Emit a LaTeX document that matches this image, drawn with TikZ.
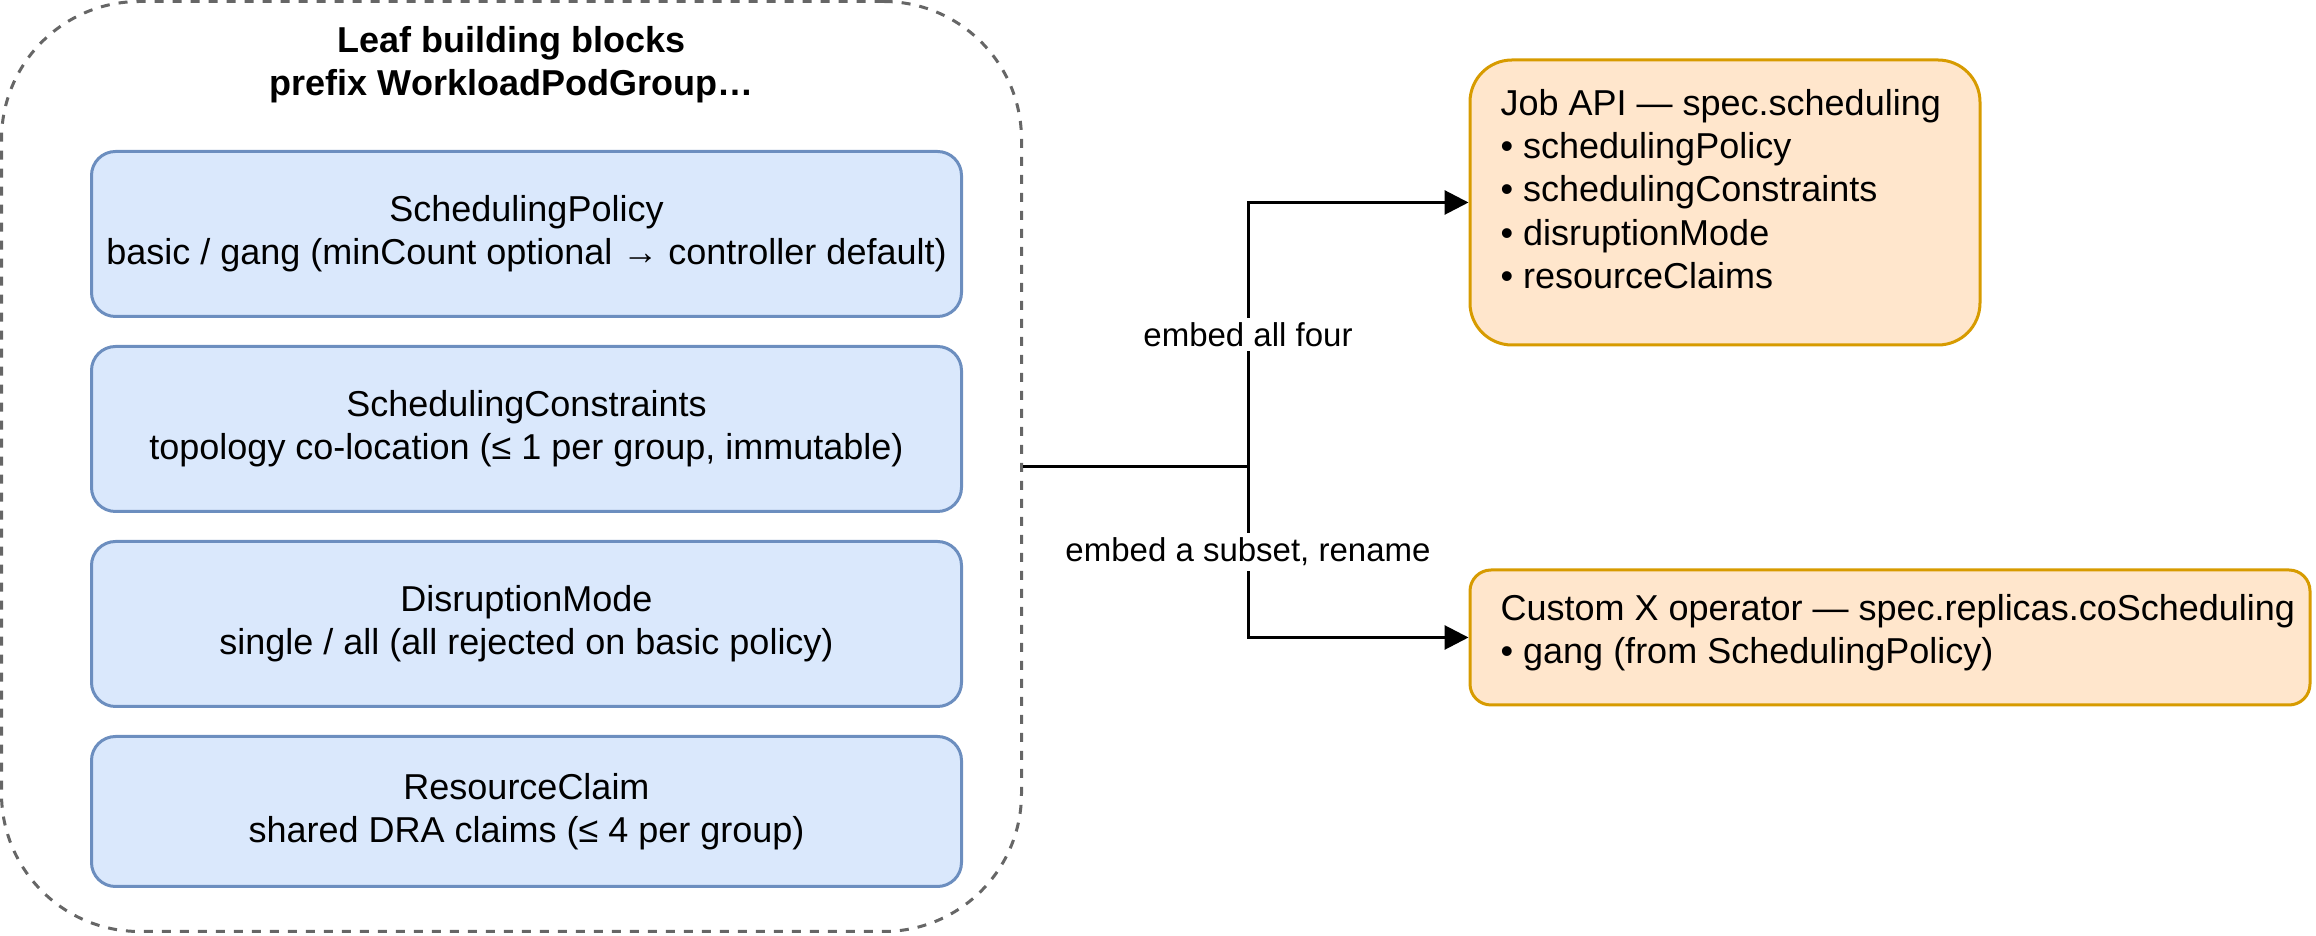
\documentclass[tikz,border=0pt]{standalone}
\usepackage{fontspec}
\setmainfont{Liberation Sans}
\usepackage{tikz}
\usetikzlibrary{
    arrows.meta,
    positioning
}
\definecolor{blockblue}{HTML}{DAE8FC}
\definecolor{blockedge}{HTML}{6C8EBF}
\definecolor{apiorange}{HTML}{FFE6CC}
\definecolor{apiedge}{HTML}{D79B00}
\definecolor{groupgray}{HTML}{666666}

\begin{document}
\begin{tikzpicture}[
    x=1pt, y=-1pt,
    every node/.style={font=\fontsize{12}{14.4}\selectfont, inner sep=0pt},
    group/.style={draw=groupgray, line width=1pt, dash pattern=on 3pt off 3pt,
        rounded corners=46pt, minimum width=340pt, minimum height=310pt},
    leafblock/.style={draw=blockedge, fill=blockblue, line width=1pt,
        rounded corners=8pt, minimum width=290pt, minimum height=55pt, align=center},
    apibox/.style={draw=apiedge, fill=apiorange, line width=1pt},
    link/.style={-{Triangle[length=8pt, width=8pt]}, line width=1pt},
    edgelabel/.style={fill=white, inner sep=1.5pt, font=\fontsize{11}{13.2}\selectfont}
]

    \useasboundingbox (0,0) rectangle (772,312);

    % Leaf building blocks group
    \node[group] (leaf) at (170.5,155.5) {};
    \node[align=center, font=\fontsize{12}{14.4}\selectfont\bfseries] (title) at (170.5,21.5)
        {Leaf building blocks\\prefix WorkloadPodGroup…};

    % The four blocks
    \node[leafblock] (policy) at (175.5,78)
        {SchedulingPolicy\\basic / gang (minCount optional → controller default)};
    \node[leafblock] (constraints) at (175.5,143)
        {SchedulingConstraints\\topology co-location (≤ 1 per group, immutable)};
    \node[leafblock] (disruption) at (175.5,208)
        {DisruptionMode\\single / all (all rejected on basic policy)};
    \node[leafblock, minimum height=50pt] (claim) at (175.5,270.5)
        {ResourceClaim\\shared DRA claims (≤ 4 per group)};

    % Consumers
    \node[apibox, rounded corners=14pt, minimum width=170pt, minimum height=95pt] (job) at (575,67.5) {};
    \node[anchor=west, align=left] (jobtext) at (500,63)
        {Job API — spec.scheduling\\• schedulingPolicy\\• schedulingConstraints\\• disruptionMode\\• resourceClaims};

    \node[apibox, rounded corners=7pt, minimum width=280pt, minimum height=45pt] (custom) at (630,212.5) {};
    \node[anchor=west, align=left] (customtext) at (500,211)
        {Custom X operator — spec.replicas.coScheduling\\• gang (from SchedulingPolicy)};

    % Connectors
    \coordinate (split) at (416,155.5);
    \draw[link] (leaf.east) -- (split) |- node[edgelabel, pos=0.25] {embed all four} (job.west);
    \draw[link] (leaf.east) -- (split) |- node[edgelabel, pos=0.25] {embed a subset, rename} (custom.west);

\end{tikzpicture}
\end{document}
